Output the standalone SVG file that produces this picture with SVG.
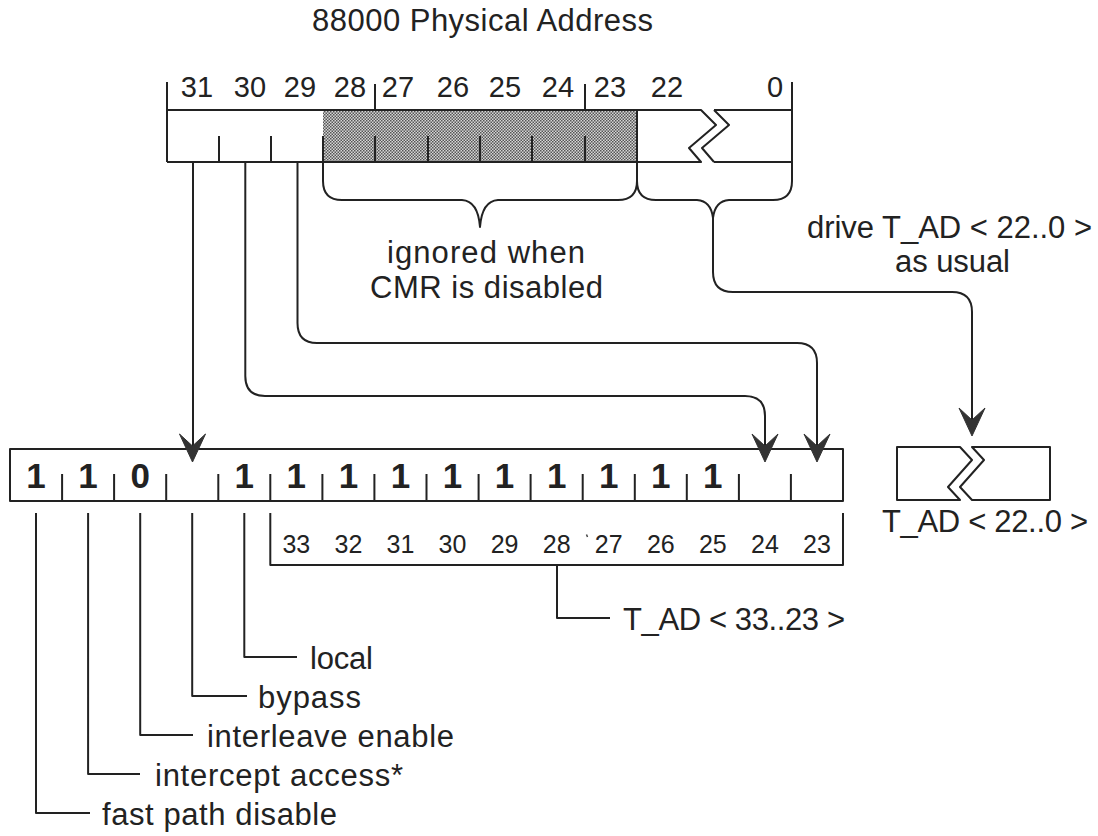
<svg xmlns="http://www.w3.org/2000/svg" xmlns:xlink="http://www.w3.org/1999/xlink" width="1098" height="836" viewBox="0 0 1098 836">
<style>
.ln{fill:none;stroke:#222;stroke-width:2;stroke-linejoin:round}
.t{font-family:"Liberation Sans",Arial,Helvetica,sans-serif;fill:#222}
.num{font-size:29px;text-anchor:middle}
.lbl{font-size:31px}
.bit{font-size:35px;font-weight:bold;text-anchor:middle}
.sm{font-size:25px;text-anchor:middle}
.ah{fill:#333;stroke:#333;stroke-width:1;stroke-linejoin:round}
</style>
<defs>
<pattern id="dots" width="3" height="3" patternUnits="userSpaceOnUse">
<rect width="3" height="3" fill="#d6d6d6"/>
<rect width="1.5" height="1.5" fill="#555"/>
<rect x="1.5" y="1.5" width="1.5" height="1.5" fill="#555"/>
</pattern>
<path id="ah" d="M0,0 L-13,-28 L0,-16 L13,-28 Z"/>
</defs>
<rect width="1098" height="836" fill="#fff"/>

<text class="t" x="312" y="31" font-size="31" textLength="341" lengthAdjust="spacing">88000 Physical Address</text>

<g id="top-register">
<rect x="323" y="110" width="314" height="52" fill="url(#dots)"/>
<path class="ln" d="M167,82 V162 M167,110 H701 L716,125 L689,148 L701,162 H167 M714,110 H792 M714,162 H792 M714,110 L729,125 L702,148 L714,162 M792,82 V162 M637,110 V162 M375,84 V110 M585,84 V110"/>
<path class="ln" d="M219,136 V162 M271,136 V162 M323,136 V162 M375,136 V162 M428,136 V162 M480,136 V162 M532,136 V162 M585,136 V162"/>
<g class="t num">
<text x="197" y="97">31</text><text x="250" y="97">30</text><text x="300" y="97">29</text><text x="350" y="97">28</text><text x="398" y="97">27</text><text x="453" y="97">26</text><text x="505" y="97">25</text><text x="558" y="97">24</text><text x="610" y="97">23</text><text x="667" y="97">22</text><text x="775" y="97">0</text>
</g>
</g>

<g id="brace-ignored">
<path class="ln" d="M323,162 V181 Q323,200 342,200 H462 Q478,201 480,227 Q482,201 498,200 H618 Q637,200 637,181 V162"/>
<text class="t lbl" x="387" y="263" textLength="198" lengthAdjust="spacing">ignored when</text>
<text class="t lbl" x="370" y="298" textLength="233" lengthAdjust="spacing">CMR is disabled</text>
</g>

<g id="brace-drive">
<path class="ln" d="M637,162 V181 Q637,200 656,200 H697 Q711,201 713,218 Q715,201 729,200 H773 Q792,200 792,181 V162"/>
<text class="t lbl" x="807" y="238" textLength="285" lengthAdjust="spacing">drive T_AD &lt; 22..0 &gt;</text>
<text class="t lbl" x="895" y="272" textLength="115" lengthAdjust="spacing">as usual</text>
</g>

<g id="bottom-register">
<rect class="ln" x="10" y="449" width="833" height="52"/>
<path class="ln" d="M62.1,474 V501 M114.1,474 V501 M166.2,474 V501 M218.3,474 V501 M270.3,474 V501 M322.4,474 V501 M374.4,474 V501 M426.5,474 V501 M478.6,474 V501 M530.6,474 V501 M582.7,474 V501 M634.8,474 V501 M686.8,474 V501 M738.9,474 V501 M790.9,474 V501"/>
<g class="t bit">
<text x="36" y="488">1</text><text x="88.1" y="488">1</text><text x="140.2" y="488">0</text><text x="244.3" y="488">1</text><text x="296.3" y="488">1</text><text x="348.4" y="488">1</text><text x="400.4" y="488">1</text><text x="452.5" y="488">1</text><text x="504.6" y="488">1</text><text x="556.7" y="488">1</text><text x="608.7" y="488">1</text><text x="660.8" y="488">1</text><text x="712.8" y="488">1</text>
</g>
</g>

<g id="tad-33-23">
<path class="ln" d="M270.3,513 V565 H843 V513"/>
<g class="t sm">
<text x="296.3" y="553">33</text><text x="348.4" y="553">32</text><text x="400.4" y="553">31</text><text x="452.5" y="553">30</text><text x="504.6" y="553">29</text><text x="556.7" y="553">28</text><text x="608.7" y="553">27</text><text x="660.8" y="553">26</text><text x="712.8" y="553">25</text><text x="764.9" y="553">24</text><text x="816.9" y="553">23</text>
</g>
<path d="M586.5,534.5 L587.5,537" stroke="#444" stroke-width="1.5"/>
<path class="ln" d="M557,565 V618 H610"/>
<text class="t lbl" x="623" y="630" textLength="222" lengthAdjust="spacing">T_AD &lt; 33..23 &gt;</text>
</g>

<g id="tad-22-0">
<path class="ln" d="M960,447 L972,460 L948,487 L960,500 H897 V447 Z M972,447 H1050 V500 H972 L960,487 L984,460 Z"/>
<text class="t lbl" x="882" y="532" textLength="206" lengthAdjust="spacing">T_AD &lt; 22..0 &gt;</text>
</g>

<g id="field-labels">
<path class="ln" d="M244.3,513 V657 H297 M192.2,513 V696 H247 M140.2,513 V735 H193 M88.1,513 V774 H140 M36,513 V813 H90"/>
<text class="t lbl" x="310" y="669" textLength="63" lengthAdjust="spacing">local</text>
<text class="t lbl" x="258" y="708" textLength="103" lengthAdjust="spacing">bypass</text>
<text class="t lbl" x="207" y="747" textLength="247" lengthAdjust="spacing">interleave enable</text>
<text class="t lbl" x="155" y="786" textLength="248" lengthAdjust="spacing">intercept access*</text>
<text class="t lbl" x="102" y="825" textLength="235" lengthAdjust="spacing">fast path disable</text>
</g>

<g id="connectors">
<path class="ln" d="M193,162 V450"/>
<path class="ln" d="M245.3,162 V376 Q245.3,396 265,396 H745 Q765,396 765,416 V450"/>
<path class="ln" d="M297.5,162 V323 Q297.5,343 317,343 H797 Q817,343 817,363 V450"/>
<path class="ln" d="M713,218 V272 Q713,292 733,292 H952 Q972,292 972,312 V425"/>
<use href="#ah" class="ah" x="192.5" y="462"/>
<use href="#ah" class="ah" x="765" y="462"/>
<use href="#ah" class="ah" x="817" y="462"/>
<use href="#ah" class="ah" x="972" y="436"/>
</g>
</svg>
